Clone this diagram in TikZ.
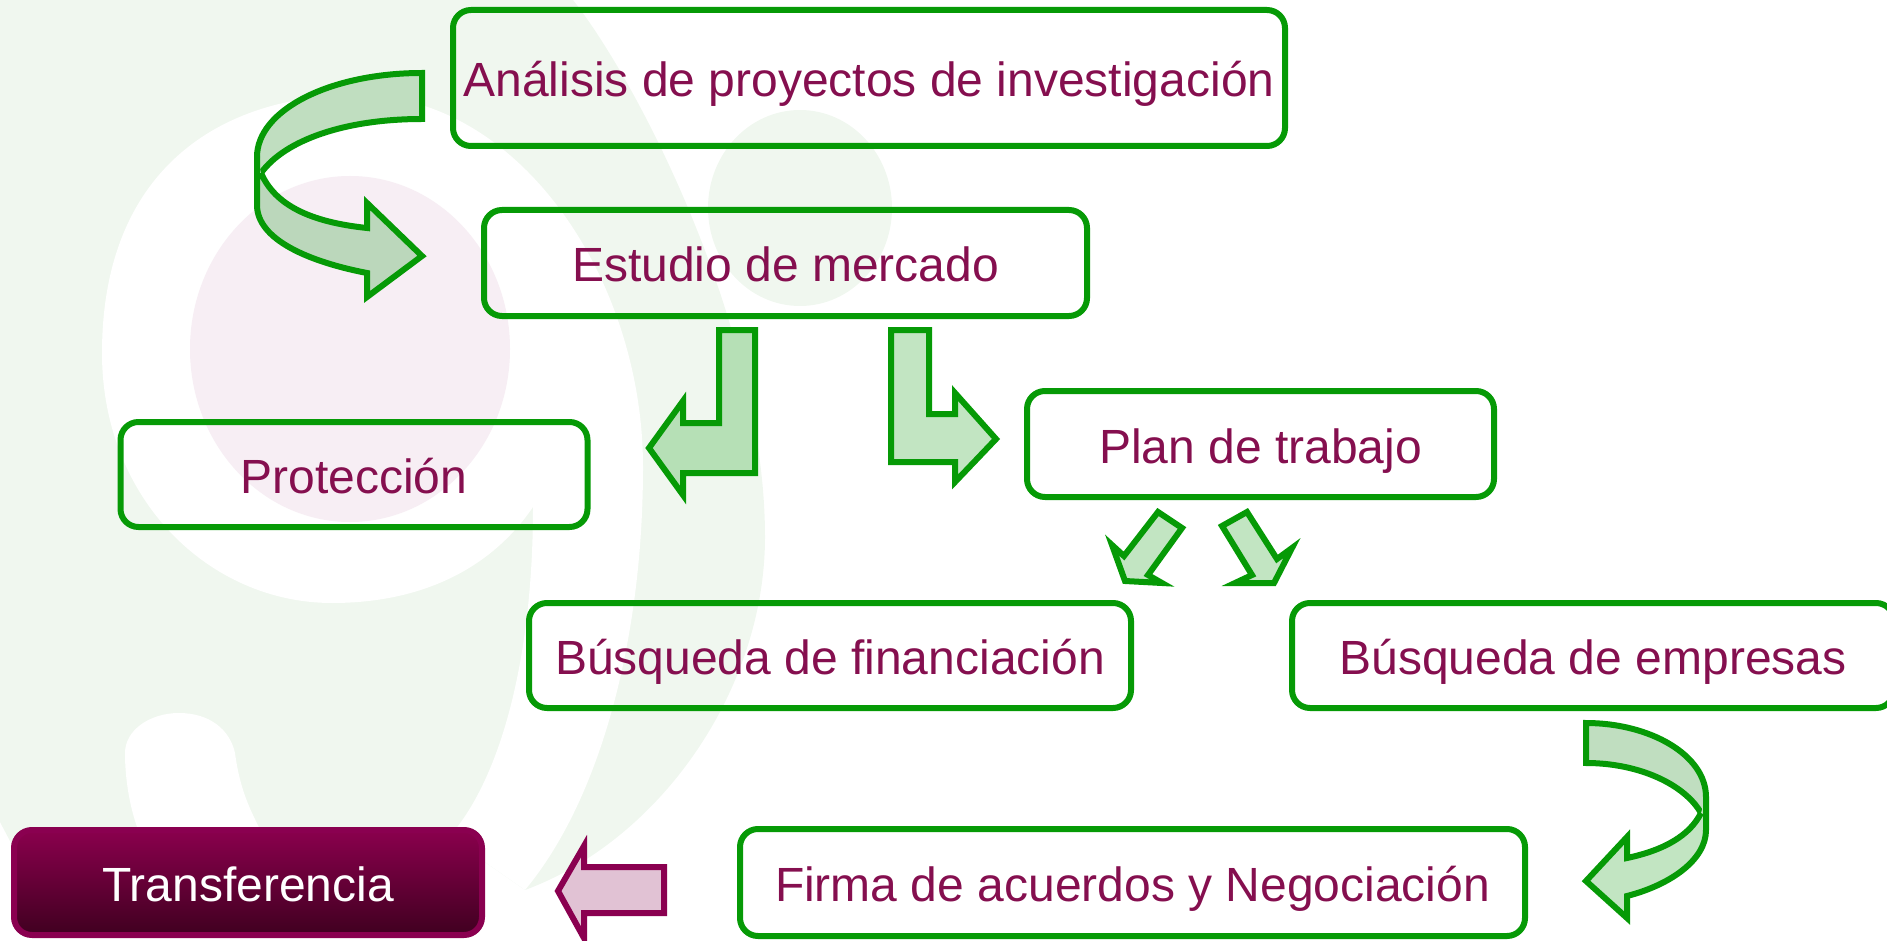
\documentclass[tikz,border=0pt]{standalone}
\usepackage{fontspec}
\setmainfont{Liberation Sans}
\usepackage{tikz}
\definecolor{lineGreen}{HTML}{069A06}
\definecolor{lineWine}{HTML}{8A0050}
\definecolor{textWine}{HTML}{850F4F}
\definecolor{markGreen}{HTML}{F0F7EF}
\definecolor{markPink}{HTML}{F7EEF4}
\definecolor{wineTop}{HTML}{8A004D}
\definecolor{wineMid}{HTML}{76003F}
\definecolor{wineLow}{HTML}{400020}
\tikzstyle{stage} = [rectangle, rounded corners=18pt, inner sep=0pt, text height=38pt, text depth=0pt, font=\fontsize{48}{56}\selectfont, text=textWine, draw=lineGreen, line width=6pt]
\tikzstyle{final} = [stage, text=white, draw=lineWine, top color=wineTop, middle color=wineMid, bottom color=wineLow]
\tikzstyle{blockarrow} = [draw=lineGreen, line width=6pt, line join=miter, miter limit=10]
\tikzstyle{paleTop} = [blockarrow, fill={rgb,255:red,192;green,222;blue,192}]
\tikzstyle{paleLow} = [blockarrow, fill={rgb,255:red,187;green,215;blue,187}]
\tikzstyle{paleBend} = [blockarrow, fill={rgb,255:red,194;green,229;blue,194}]
\tikzstyle{deepBend} = [blockarrow, fill={rgb,255:red,182;green,224;blue,182}]
\tikzstyle{paleWine} = [blockarrow, draw=lineWine, fill={rgb,255:red,225;green,194;blue,212}]

\begin{document}
\begin{tikzpicture}[x=1pt, y=-1pt]

	\useasboundingbox (0,0) rectangle (1887,941);

	\fill[markGreen] (0,0) -- (573,0) .. controls (640,85) and (765,330) .. (765,537) .. controls (765,690) and (660,840) .. (525,890) -- (449,837) -- (440,860) -- (20,860) -- (0,822) -- cycle;
	\fill[white] (102,353) .. controls (102,170) and (220,95) .. (357,95) .. controls (520,95) and (643,280) .. (643,467) .. controls (643,640) and (600,800) .. (525,890) -- (449,837) .. controls (500,780) and (533,660) .. (533,507) .. controls (490,570) and (420,603) .. (332,603) .. controls (210,603) and (102,500) .. (102,353) -- cycle;
	\fill[markPink] (350,349) ellipse [x radius=160, y radius=173];
	\fill[markGreen] (800,208) ellipse [x radius=92, y radius=98];
	\fill[white] (125,753) .. controls (125,730) and (150,713) .. (179,713) .. controls (210,713) and (230,730) .. (235,753) .. controls (240,790) and (250,810) .. (263,835) -- (140,835) .. controls (130,810) and (125,780) .. (125,753) -- cycle;

	\node (analisisBox) [stage, minimum width=832pt, minimum height=136pt] at (869,78) {Análisis de proyectos de investigación};
	\node (mercadoBox) [stage, minimum width=603pt, minimum height=106pt] at (785.5,263) {Estudio de mercado};
	\node (proteccionBox) [stage, minimum width=467pt, minimum height=105pt] at (354,474.5) {Protección};
	\node (planBox) [stage, minimum width=467pt, minimum height=106pt] at (1260.5,444) {Plan de trabajo};
	\node (financiacionBox) [stage, minimum width=602pt, minimum height=105pt] at (830,655.5) {Búsqueda de financiación};
	\node (empresasBox) [stage, minimum width=602pt, minimum height=105pt] at (1593,655.5) {Búsqueda de empresas};
	\node (firmaBox) [stage, minimum width=785pt, minimum height=107pt] at (1132.5,882.5) {Firma de acuerdos y Negociación};
	\node (transferBox) [final, minimum width=468pt, minimum height=105pt] at (248,882.5) {Transferencia};

	\draw[paleTop] (261,173) .. controls (285,140) and (345,119) .. (422,119) -- (422,73) .. controls (330,73) and (257,110) .. (257,157);
	\draw[paleLow] (257,157) -- (257,205) .. controls (257,240) and (310,262) .. (367,273) -- (367,297) -- (422,256) -- (367,203) -- (367,228) .. controls (310,222) and (275,205) .. (261,173);

	\draw[deepBend] (755,330) -- (719,330) -- (719,423) -- (683,423) -- (683,401) -- (649,448) -- (683,495) -- (683,473) -- (755,473) -- cycle;
	\draw[paleBend] (891,330) -- (929,330) -- (929,414) -- (955,414) -- (955,393) -- (996,439) -- (955,482) -- (955,462) -- (891,462) -- cycle;

	\draw[paleBend] (1158,512) -- (1182,528) -- (1148,575) -- (1162,583) -- (1125,581) -- (1112,545) -- (1124,556) -- cycle;
	\draw[paleBend] (1222,526) -- (1247,512) -- (1277,559) -- (1292,548) -- (1274,583) -- (1235,583) -- (1252,575) -- cycle;

	\draw[paleTop] (1701,813) .. controls (1685,785) and (1640,763) .. (1586,763) -- (1586,723) .. controls (1650,723) and (1706,755) .. (1706,797);
	\draw[paleBend] (1706,797) -- (1706,830) .. controls (1706,860) and (1670,885) .. (1627,896) -- (1627,918) -- (1586,881) -- (1627,837) -- (1627,858) .. controls (1665,850) and (1690,835) .. (1701,813);

	\draw[paleWine] (664,867) -- (584,867) -- (584,846) -- (558,891) -- (584,938) -- (584,913) -- (664,913) -- cycle;

\end{tikzpicture}
\end{document}
